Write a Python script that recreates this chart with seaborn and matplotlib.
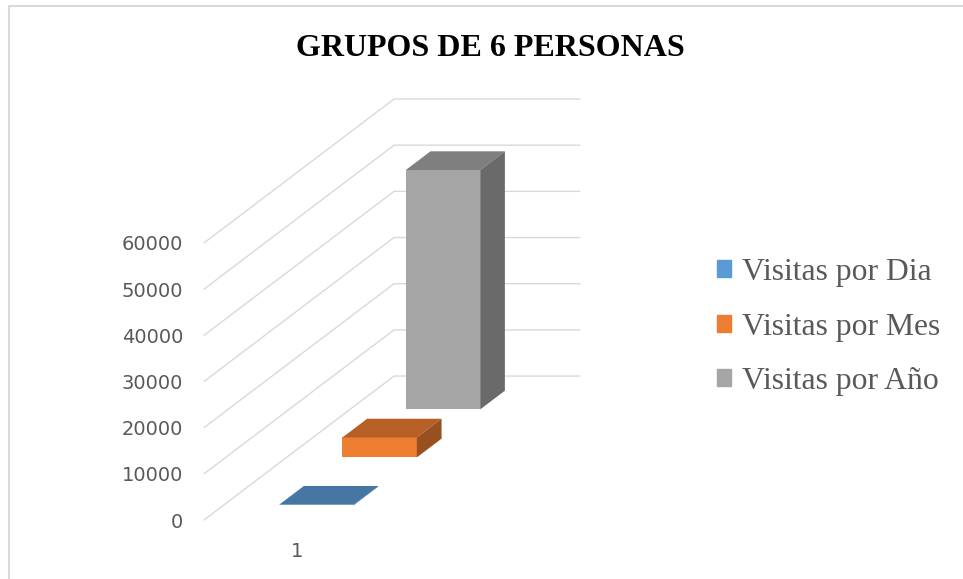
import numpy as np
import pandas as pd
import matplotlib.pyplot as plt
import seaborn as sns
from matplotlib.patches import Polygon, Patch
from matplotlib.lines import Line2D
from matplotlib.colors import to_rgb

grupos = ["1"]
series = ["Visitas por Dia", "Visitas por Mes", "Visitas por Año"]
visitas = [144, 4320, 51840]
colores = ["#5B9BD5", "#ED7D31", "#A5A5A5"]
ticks_y = [0, 10000, 20000, 30000, 40000, 50000, 60000]

df = pd.DataFrame({"grupo": grupos * len(series), "serie": series, "visitas": visitas})

sns.set_style("white")
plt.rcParams["font.family"] = ["DejaVu Sans"]

# falsa perspectiva 3D (oblicua)
DX = 190 / 186      # profundidad total en unidades de categoria
DY = 31170          # profundidad total en unidades de valor
ANCHO = 0.4
FONDO = 0.13


def oscurecer(c, f):
    return tuple(np.array(to_rgb(c)) * f)


fig = plt.figure(figsize=(9.63, 5.79), dpi=100)
ax = fig.add_axes([204 / 963, 59 / 579, 376 / 963, 421 / 579])
ax.patch.set_alpha(0)

sns.barplot(data=df, x="grupo", y="visitas", hue="serie", hue_order=series,
            palette=colores, saturation=1, legend=False, ax=ax, zorder=3)

# rejilla en la pared lateral y del fondo
x0 = -0.5
for v in ticks_y:
    ax.plot([x0, x0 + DX, x0 + DX + 1], [v, v + DY, v + DY],
            color="#D9D9D9", lw=1, zorder=1, clip_on=False)

# colocar cada serie a su profundidad y dibujar caras superior y lateral
for k, cont in enumerate(ax.containers):
    bar = cont[0]
    t = (k + 0.5) / 3 - FONDO / 2
    h = bar.get_height()
    xl = -ANCHO / 2 + t * DX
    yb = t * DY
    bar.set_x(xl)
    bar.set_y(yb)
    bar.set_width(ANCHO)
    bar.set_edgecolor("none")
    bar.set_zorder(5 - k)
    xr, yt = xl + ANCHO, yb + h
    ddx, ddy = FONDO * DX, FONDO * DY
    c = colores[k]
    ax.add_patch(Polygon([(xl, yt), (xr, yt), (xr + ddx, yt + ddy), (xl + ddx, yt + ddy)],
                         closed=True, fc=oscurecer(c, 0.77), ec="none", zorder=5 - k, clip_on=False))
    ax.add_patch(Polygon([(xr, yb), (xr, yt), (xr + ddx, yt + ddy), (xr + ddx, yb + ddy)],
                         closed=True, fc=oscurecer(c, 0.64), ec="none", zorder=5 - k, clip_on=False))

ax.set_xlim(-0.5, 0.5 + DX)
ax.set_ylim(0, 60000 + DY)
ax.set_yticks(ticks_y)
ax.set_yticklabels([str(v) for v in ticks_y])
ax.set_xlabel("")
ax.set_ylabel("")
ax.tick_params(axis="both", length=0, labelsize=14, colors="#595959")
ax.tick_params(axis="y", pad=15)
ax.tick_params(axis="x", pad=16)
sns.despine(ax=ax, left=True, bottom=True)

fig.legend(handles=[Patch(color=c, label=s) for c, s in zip(colores, series)],
           loc="center left", bbox_to_anchor=(717 / 963, 1 - 327 / 579),
           frameon=False, borderpad=0, borderaxespad=0,
           prop={"family": "Liberation Serif", "size": 22.8}, labelcolor="#595959",
           handlelength=0.45, handleheight=0.45, handletextpad=0.33, labelspacing=0.8)

fig.text(490 / 963, 1 - 48 / 579, "GRUPOS DE 6 PERSONAS", ha="center", va="center",
         family="Liberation Serif", weight="bold", size=23, color="black")

# marco del grafico
fig.add_artist(Line2D([9 / 963, 9 / 963], [0, 1 - 6 / 579], transform=fig.transFigure,
                      color="#D9D9D9", lw=1.5))
fig.add_artist(Line2D([9 / 963, 1], [1 - 6 / 579, 1 - 6 / 579], transform=fig.transFigure,
                      color="#D9D9D9", lw=1.5))

fig.savefig("out.png", dpi=100)
